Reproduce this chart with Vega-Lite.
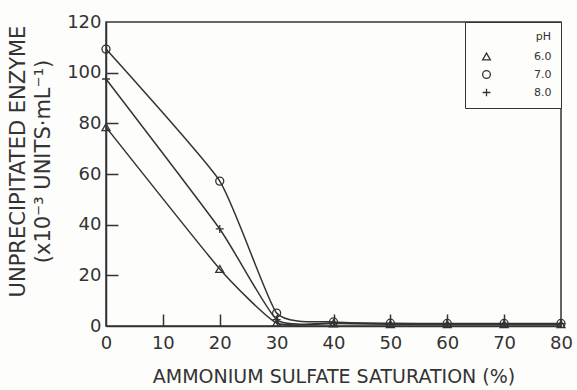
{
  "$schema": "https://vega.github.io/schema/vega-lite/v6.json",
  "width": 455,
  "height": 304,
  "autosize": {"type": "none"},
  "padding": {"left": 106, "top": 22, "right": 16, "bottom": 64},
  "background": "#fdfdfb",
  "config": {
    "view": {"stroke": "#333", "strokeWidth": 1.5},
    "font": "DejaVu Sans",
    "axis": {
      "domainColor": "#333", "domainWidth": 1.5,
      "labelColor": "#333", "labelFont": "DejaVu Sans", "labelFontSize": 18,
      "titleColor": "#333", "titleFont": "DejaVu Sans", "titleFontWeight": "normal",
      "grid": false
    }
  },
  "data": {
    "values": [
      {"sat": 0, "enzyme": 78.5, "pH": "6.0"},
      {"sat": 20, "enzyme": 22.5, "pH": "6.0"},
      {"sat": 30, "enzyme": 1.2, "pH": "6.0"},
      {"sat": 40, "enzyme": 1, "pH": "6.0"},
      {"sat": 50, "enzyme": 0.7, "pH": "6.0"},
      {"sat": 60, "enzyme": 0.7, "pH": "6.0"},
      {"sat": 70, "enzyme": 0.7, "pH": "6.0"},
      {"sat": 80, "enzyme": 0.7, "pH": "6.0"},
      {"sat": 0, "enzyme": 109.3, "pH": "7.0"},
      {"sat": 20, "enzyme": 57.2, "pH": "7.0"},
      {"sat": 30, "enzyme": 5.1, "pH": "7.0"},
      {"sat": 40, "enzyme": 1.6, "pH": "7.0"},
      {"sat": 50, "enzyme": 1.1, "pH": "7.0"},
      {"sat": 60, "enzyme": 1, "pH": "7.0"},
      {"sat": 70, "enzyme": 1, "pH": "7.0"},
      {"sat": 80, "enzyme": 1, "pH": "7.0"},
      {"sat": 0, "enzyme": 97.5, "pH": "8.0"},
      {"sat": 20, "enzyme": 38.3, "pH": "8.0"},
      {"sat": 30, "enzyme": 2.5, "pH": "8.0"},
      {"sat": 40, "enzyme": 1.2, "pH": "8.0"},
      {"sat": 50, "enzyme": 0.9, "pH": "8.0"},
      {"sat": 60, "enzyme": 0.9, "pH": "8.0"},
      {"sat": 70, "enzyme": 0.9, "pH": "8.0"},
      {"sat": 80, "enzyme": 0.9, "pH": "8.0"}
    ]
  },
  "resolve": {"axis": {"x": "independent", "y": "independent"}},
  "layer": [
    {
      "mark": {"type": "line", "interpolate": "cardinal", "tension": 0.5, "stroke": "#333", "strokeWidth": 1.5},
      "encoding": {
        "x": {
          "field": "sat", "type": "quantitative",
          "scale": {"domain": [0, 80], "nice": false},
          "axis": {"orient": "bottom", "values": [0, 10, 20, 30, 40, 50, 60, 70, 80], "ticks": true, "tickSize": 6, "tickColor": "transparent", "labelPadding": 2, "labelFlush": false,
                   "title": "AMMONIUM SULFATE SATURATION (%)", "titleFontSize": 19, "titlePadding": 15}
        },
        "y": {
          "field": "enzyme", "type": "quantitative",
          "scale": {"domain": [0, 120], "nice": false},
          "axis": {"orient": "left", "values": [0, 20, 40, 60, 80, 100, 120], "ticks": true, "tickSize": 6, "tickColor": "transparent", "labelPadding": -1, "labelFlush": false,
                   "title": ["UNPRECIPITATED ENZYME", "(x10⁻³ UNITS·mL⁻¹)"], "titleFontSize": 21, "titleLineHeight": 25, "titlePadding": 13, "titleY": 139}
        },
        "detail": {"field": "pH"}
      }
    },
    {
      "mark": {"type": "point", "filled": false, "stroke": "#333", "strokeWidth": 1.3, "size": 64, "opacity": 1},
      "encoding": {
        "x": {"field": "sat", "type": "quantitative", "axis": null},
        "y": {"field": "enzyme", "type": "quantitative", "axis": null},
        "shape": {
          "field": "pH", "type": "nominal",
          "scale": {"domain": ["6.0", "7.0", "8.0"], "range": ["triangle-up", "circle", "M-1,0L1,0M0,-1L0,1"]},
          "legend": {
            "orient": "top-right", "offset": 0, "title": "pH",
            "strokeColor": "#333", "padding": 9, "fillColor": "#fdfdfb",
            "titleFontSize": 11, "titleFontWeight": "normal", "titleColor": "#333", "titleAnchor": "end", "titlePadding": 9,
            "labelFontSize": 11, "labelColor": "#333", "labelOffset": 42,
            "symbolOffset": 7, "rowPadding": 5, "symbolStrokeColor": "#333", "symbolStrokeWidth": 1.3, "symbolSize": 60
          }
        }
      }
    },
    {
      "mark": {"type": "point", "opacity": 0},
      "encoding": {
        "x": {
          "field": "sat", "type": "quantitative",
          "axis": {"orient": "top", "values": [10, 20, 30, 40, 50, 60, 70], "offset": -304, "tickSize": 12, "tickColor": "#333", "tickWidth": 1.5, "domain": false, "labels": true, "labelExpr": "''", "title": null}
        },
        "y": {
          "field": "enzyme", "type": "quantitative",
          "axis": {"orient": "right", "values": [20, 40, 60, 80, 100], "offset": -455, "tickSize": 12, "tickColor": "#333", "tickWidth": 1.5, "domain": false, "labels": true, "labelExpr": "''", "title": null}
        }
      }
    }
  ]
}
